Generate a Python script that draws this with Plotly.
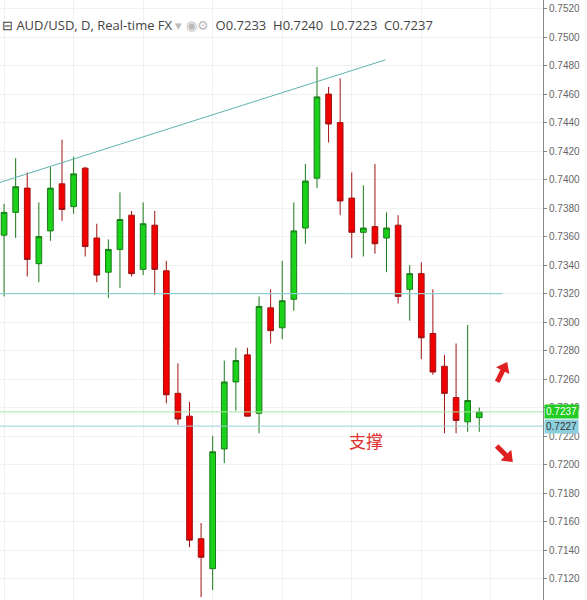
import plotly.graph_objects as go

opens  = [0.7361,0.7377,0.7394,0.7341,0.7364,0.7397,0.7381,0.7408,0.7359,0.7335,0.7351,0.7375,0.7337,0.7368,
          0.7336,0.7250,0.7234,0.7148,0.7127,0.7211,0.7258,0.7277,0.7236,0.7310,0.7296,0.7316,0.7366,0.7401,
          0.7460,0.7440,0.7387,0.7363,0.7367,0.7359,0.7368,0.7323,0.7334,0.7292,0.7269,0.7247,0.7230,0.7233]
highs  = [0.7383,0.7415,0.7405,0.7384,0.7409,0.7428,0.7416,0.7409,0.7369,0.7358,0.7391,0.7378,0.7384,0.7378,
          0.7343,0.7271,0.7244,0.7159,0.7220,0.7273,0.7282,0.7282,0.7318,0.7323,0.7343,0.7384,0.7411,0.7479,
          0.7465,0.7471,0.7405,0.7396,0.7411,0.7377,0.7375,0.7340,0.7342,0.7323,0.7277,0.7285,0.7298,0.7240]
lows   = [0.7318,0.7359,0.7332,0.7328,0.7357,0.7371,0.7376,0.7346,0.7328,0.7317,0.7324,0.7332,0.7333,0.7319,
          0.7243,0.7228,0.7142,0.7107,0.7112,0.7201,0.7238,0.7234,0.7222,0.7285,0.7288,0.7308,0.7355,0.7394,
          0.7426,0.7375,0.7345,0.7346,0.7348,0.7335,0.7313,0.7301,0.7274,0.7263,0.7222,0.7222,0.7223,0.7223]
closes = [0.7377,0.7395,0.7344,0.7360,0.7394,0.7379,0.7404,0.7353,0.7333,0.7351,0.7372,0.7334,0.7369,0.7337,
          0.7249,0.7232,0.7147,0.7135,0.7209,0.7258,0.7273,0.7234,0.7311,0.7294,0.7315,0.7364,0.7399,0.7458,
          0.7439,0.7385,0.7363,0.7366,0.7355,0.7366,0.7318,0.7334,0.7289,0.7265,0.7250,0.7231,0.7245,0.7237]
idx = list(range(len(opens)))

trend_x = [-0.35, 32.9]
trend_y = [0.7398, 0.7484]
h_line = 0.7320
last_price = 0.7237
support = 0.7227
yticks = [round(0.7120 + 0.002*i, 4) for i in range(21)]
arrow_up_x, arrow_up_y = [42.55, 43.15], [0.7258, 0.7268]
arrow_dn_x, arrow_dn_y = [42.5, 43.5], [0.7213, 0.7205]

fig = go.Figure()
fig.add_trace(go.Candlestick(x=idx, open=opens, high=highs, low=lows, close=closes,
    increasing=dict(line=dict(color="#1a7a1a", width=1), fillcolor="#19d219"),
    decreasing=dict(line=dict(color="#a01010", width=1), fillcolor="#f20000"),
    whiskerwidth=0, showlegend=False, hoverinfo="skip"))
fig.add_trace(go.Scatter(x=trend_x, y=trend_y, mode="lines", line=dict(color="#5fb3b3", width=1), showlegend=False))
fig.add_trace(go.Scatter(x=[-0.35, 43], y=[h_line, h_line], mode="lines", line=dict(color="#8fd0d0", width=1.2), showlegend=False))
fig.add_hline(y=last_price, line=dict(color="#a8e6a0", width=1))
fig.add_hline(y=support, line=dict(color="#9ed0dc", width=1))

for ax_, ay_, ang in [(arrow_up_x, arrow_up_y, 27), (arrow_dn_x, arrow_dn_y, 135)]:
    fig.add_trace(go.Scatter(x=ax_, y=ay_, mode="lines", line=dict(color="#e02020", width=5), showlegend=False, hoverinfo="skip"))
    fig.add_trace(go.Scatter(x=[ax_[1]], y=[ay_[1]], mode="markers", showlegend=False, hoverinfo="skip",
                             marker=dict(symbol="triangle-up", size=13, angle=ang, color="#e02020")))

fig.add_annotation(x=1.0, xref="paper", y=last_price, text="0.7237", showarrow=False, xanchor="left", xshift=1,
                   bgcolor="#22cc22", font=dict(color="white", size=10, family="Liberation Sans"), borderpad=1)
fig.add_annotation(x=1.0, xref="paper", y=support, text="0.7227", showarrow=False, xanchor="left", xshift=1,
                   bgcolor="#8ccfdc", font=dict(color="#333", size=10, family="Liberation Sans"), borderpad=1)
fig.add_annotation(x=31.2, y=0.7217, text="支撑", showarrow=False, font=dict(color="#e03030", size=17, family="Noto Sans CJK SC"))

fig.add_annotation(x=0.0, xref="paper", y=1.0, yref="paper", yshift=-14, xanchor="left", showarrow=False,
    text="⊟ AUD/USD, D, Real-time FX <span style='color:#bbb'>▾ ◉⚙</span>  O0.7233  H0.7240  L0.7223  C0.7237",
    font=dict(size=13, color="#444", family="Open Sans"))

fig.update_layout(width=587, height=600, margin=dict(l=0, r=44, t=0, b=0),
    plot_bgcolor="white", paper_bgcolor="white",
    xaxis=dict(range=[-0.35, 46.5], showticklabels=False, rangeslider=dict(visible=False),
               showgrid=True, gridcolor="#f0f0f0", dtick=6, zeroline=False),
    yaxis=dict(range=[0.7105, 0.7526], side="right", tickvals=yticks, tickformat=".4f", automargin=False,
               showgrid=True, gridcolor="#f0f0f0", showline=True, linecolor="#888",
               ticks="outside", ticklen=3, tickcolor="#888",
               tickfont=dict(size=10, color="#666", family="Liberation Sans")))
fig.write_html("out.html", config={"displayModeBar": False})
with open("out.html", encoding="utf-8") as f:
    html = f.read()
html = html.replace("<body>", "<body style=\"margin:0;overflow:hidden\">", 1)
with open("out.html", "w", encoding="utf-8") as f:
    f.write(html)
